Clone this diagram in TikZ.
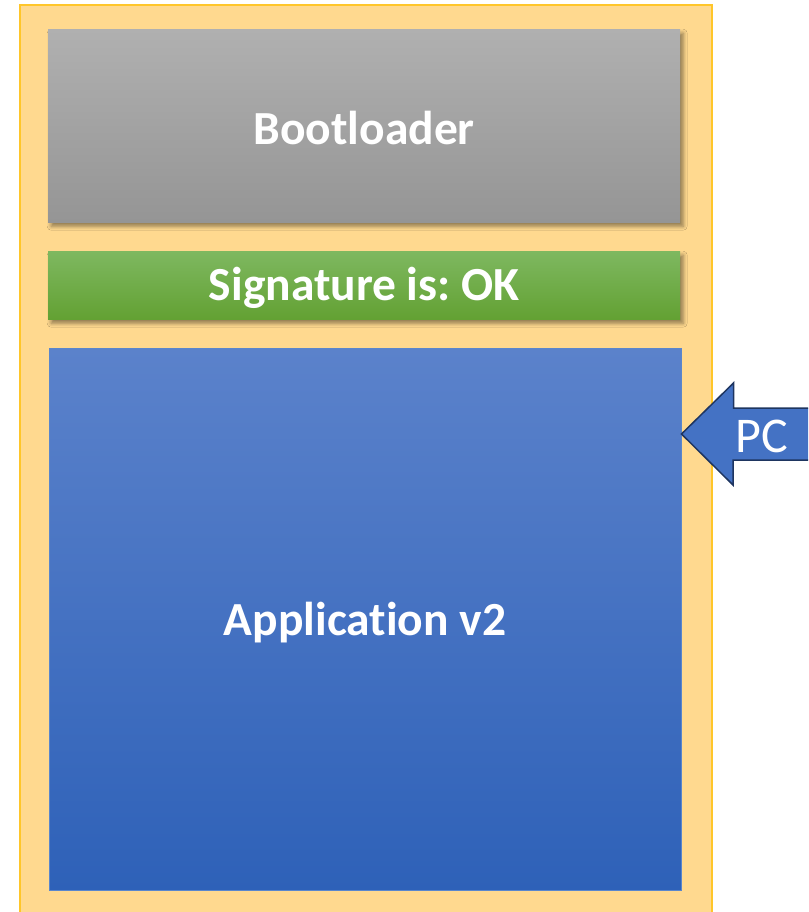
\documentclass[tikz,border=0pt]{standalone}
\usepackage{fontspec}
\setmainfont[Ligatures={NoCommon,NoRare,NoContextual}]{Carlito}
\frenchspacing
\usetikzlibrary{shadows.blur}
\definecolor{frameedge}{HTML}{FFC62A}
\definecolor{framefill}{HTML}{FFD98F}
\definecolor{graytop}{HTML}{B0B0B0}
\definecolor{graybot}{HTML}{959595}
\definecolor{greentop}{HTML}{7EB860}
\definecolor{greenbot}{HTML}{63A133}
\definecolor{bluetop}{HTML}{5B82CB}
\definecolor{bluebot}{HTML}{2E61B8}
\definecolor{blueedge}{HTML}{5A86CC}
\definecolor{arrowfill}{HTML}{4472C4}
\definecolor{arrowedge}{HTML}{1E3560}
\tikzset{
  block/.style={minimum width=632pt, inner sep=0pt},
  blocklabel/.style={text=white, font=\fontsize{47.5}{52}\selectfont\bfseries},
  softshadow/.style={blur shadow={shadow xshift=3pt, shadow yshift=-4pt,
    shadow blur radius=4pt, shadow opacity=45}},
}
\begin{document}
\begin{tikzpicture}[x=1pt,y=-1pt]
\useasboundingbox (0,0) rectangle (808,912);
\clip (0,0) rectangle (808,912);
% memory region frame
\node[draw=frameedge, line width=2pt, fill=framefill, minimum width=692pt,
  minimum height=930pt, inner sep=0pt, anchor=north west] (mem) at (19,4) {};
% bootloader section
\node[block, softshadow, minimum height=193pt, anchor=north west,
  top color=graytop, bottom color=graybot] (boot) at (48,29) {};
\node[blocklabel] (bootlbl) at ([yshift=-2pt]boot.center) {Bootloader};
% signature section
\node[block, softshadow, minimum height=68pt, anchor=north west,
  top color=greentop, bottom color=greenbot] (sig) at (48,251) {};
\node[blocklabel] (siglbl) at ([yshift=-3pt]sig.center) {Signature is: OK};
% application section
\node[block, draw=blueedge, line width=1pt, minimum height=542pt,
  anchor=north west, top color=bluetop, bottom color=bluebot] (app) at (48.5,348) {};
\node[blocklabel] (applbl) at ([yshift=-3pt]app.center) {Application v2};
% program counter arrow
\coordinate (tip) at (app.east |- 0,434);
\draw[fill=arrowfill, draw=arrowedge, line width=1.5pt, line join=miter]
  (tip) -- ++(52,-51) -- ++(0,25) -- (820,408) -- (820,460) -- (733,460)
  -- (733,485) -- cycle;
\node[text=white, font=\fontsize{50}{55}\selectfont, anchor=center] (pc) at (762,436) {PC};
\end{tikzpicture}
\end{document}
